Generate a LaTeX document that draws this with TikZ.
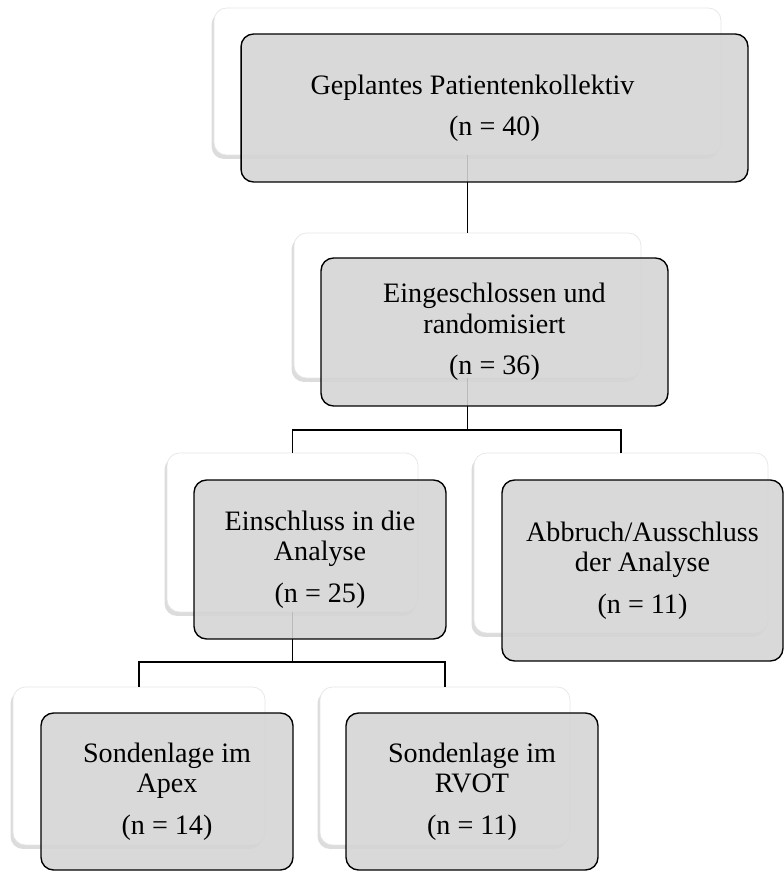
\documentclass[tikz,border=0pt]{standalone}
\usepackage{fontspec}
\setmainfont{Liberation Serif}
\usepackage{tikz}
\usetikzlibrary{shadows}
\definecolor{boxgray}{RGB}{212,212,212}
\definecolor{cardedge}{RGB}{230,230,230}

\begin{document}
\begin{tikzpicture}[x=0.02cm, y=-0.02cm,
  card/.style={rectangle, rounded corners=0.25cm, fill=white, draw=cardedge,
    drop shadow={shadow xshift=-0.05cm, shadow yshift=-0.08cm, opacity=0.3, fill=black!45}},
  box/.style={rectangle, rounded corners=0.25cm, fill=boxgray, fill opacity=0.88,
    text opacity=1, draw=black, line width=0.8pt, align=center,
    font=\fontsize{16}{17.5}\selectfont},
  link/.style={draw=black, line width=0.8pt}]
\useasboundingbox (0,0) rectangle (784,872);

% white cards behind
\node[card, minimum width=10.14cm, minimum height=2.94cm] (plan-b) at (467.5,81.5) {};
\node[card, minimum width=6.94cm, minimum height=2.90cm] (rand-b) at (467.5,305.5) {};
\node[card, minimum width=5.02cm, minimum height=3.18cm] (incl-b) at (292.5,532.5) {};
\node[card, minimum width=5.88cm, minimum height=3.60cm] (excl-b) at (621,543) {};
\node[card, minimum width=5.04cm, minimum height=3.16cm] (apex-b) at (139,766) {};
\node[card, minimum width=5.00cm, minimum height=3.16cm] (rvot-b) at (445,766) {};

% connectors
\coordinate (fork1) at (467.5,430);
\coordinate (fork2) at (292.5,662);
\draw[link] (plan-b.south) -- (rand-b.north);
\draw[link] (rand-b.south) -- (fork1);
\draw[link] (incl-b.north) |- (fork1) -| (excl-b.north);
\draw[link] (incl-b.south) -- (fork2);
\draw[link] (apex-b.north) |- (fork2) -| (rvot-b.north);

% grey boxes in front
\node[box, minimum width=10.14cm, minimum height=2.96cm] (plan) at ([xshift=0.54cm, yshift=-0.53cm]plan-b) {Geplantes Patientenkollektiv\hspace*{0.88cm}\\[6pt](n = 40)};
\node[box, minimum width=6.94cm, minimum height=2.96cm] (rand) at ([xshift=0.54cm, yshift=-0.53cm]rand-b) {Eingeschlossen und\\randomisiert\\[6pt](n = 36)};
\node[box, minimum width=5.04cm, minimum height=3.18cm] (incl) at ([xshift=0.55cm, yshift=-0.54cm]incl-b) {Einschluss in die\\Analyse\\[6pt](n = 25)};
\node[box, minimum width=5.62cm, minimum height=3.62cm] (excl) at ([xshift=0.43cm, yshift=-0.55cm]excl-b) {Abbruch/Ausschluss\\der Analyse\\[6pt](n = 11)};
\node[box, minimum width=5.04cm, minimum height=3.14cm] (apex) at ([xshift=0.56cm, yshift=-0.51cm]apex-b) {Sondenlage im\\Apex\\[6pt](n = 14)};
\node[box, minimum width=5.04cm, minimum height=3.14cm] (rvot) at ([xshift=0.54cm, yshift=-0.51cm]rvot-b) {Sondenlage im\\RVOT\\[6pt](n = 11)};
\end{tikzpicture}
\end{document}
